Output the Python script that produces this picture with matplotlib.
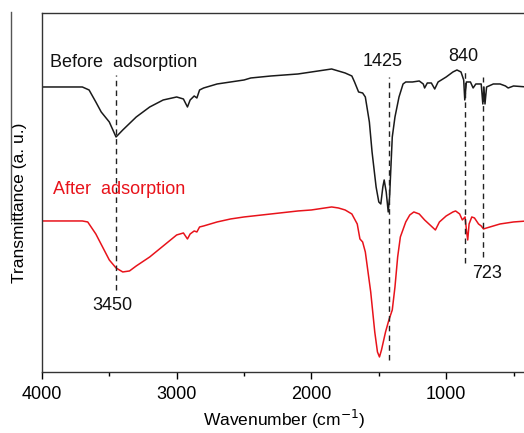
import matplotlib.pyplot as plt
from matplotlib.lines import Line2D
from matplotlib.ticker import MultipleLocator

plt.rcParams['font.family'] = ['Liberation Sans', 'DejaVu Sans']

# FTIR spectra, arbitrary transmittance units (offset curves)
wn_before = [4000, 3800, 3700, 3650, 3600, 3560, 3500, 3450, 3400, 3300, 3200, 3100,
             3000, 2950, 2920, 2900, 2870, 2850, 2830, 2800, 2700, 2600, 2500, 2450,
             2300, 2100, 2000, 1900, 1850, 1800, 1750, 1700, 1680, 1650, 1620, 1600,
             1570, 1550, 1520, 1500, 1485, 1470, 1460, 1445, 1430, 1420, 1400, 1380,
             1350, 1320, 1300, 1250, 1200, 1170, 1160, 1140, 1110, 1085, 1060, 1000,
             950, 920, 890, 870, 862, 850, 820, 800, 780, 740, 728, 720, 712, 700,
             650, 600, 560, 540, 500, 400]
t_before = [285, 285, 285, 282, 270, 260, 250, 235, 242, 255, 265, 272,
            275, 273, 265, 272, 276, 274, 282, 284, 288, 290, 292, 294,
            296, 298, 300, 302, 303, 301, 299, 296, 290, 280, 279, 275,
            250, 220, 185, 170, 168, 185, 192, 180, 160, 175, 235, 255,
            275, 288, 290, 290, 291, 288, 284, 289, 289, 283, 290, 295,
            300, 302, 300, 292, 272, 290, 290, 284, 288, 288, 268, 285, 268, 285,
            288, 288, 286, 284, 286, 285]

wn_after = [4000, 3700, 3660, 3600, 3550, 3500, 3450, 3400, 3350, 3300, 3200, 3100,
            3000, 2950, 2920, 2900, 2870, 2850, 2830, 2800, 2700, 2600, 2500, 2300,
            2100, 2000, 1900, 1850, 1800, 1750, 1700, 1660, 1640, 1620, 1600, 1560,
            1530, 1510, 1495, 1480, 1450, 1425, 1400, 1380, 1360, 1340, 1300, 1270,
            1240, 1200, 1160, 1120, 1080, 1050, 1000, 950, 930, 900, 880, 860, 848,
            840, 830, 810, 790, 760, 740, 723, 700, 650, 600, 500, 400]
t_after = [151, 151, 150, 138, 125, 112, 104, 100, 101, 106, 115, 126,
           137, 139, 133, 138, 141, 140, 145, 146, 150, 153, 155, 158,
           161, 162, 164, 165, 164, 162, 158, 148, 133, 130, 120, 80,
           40, 20, 15, 22, 40, 52, 62, 85, 115, 135, 150, 157,
           160, 158, 152, 147, 142, 150, 156, 160, 161, 158, 152, 155, 140,
           132, 148, 155, 154, 148, 146, 143, 144, 146, 148, 150, 151]

# marked bands: position, dashed line span, label, label position
band_pos = [3450, 1425, 860, 723]
band_lo = [82, 12, 109, 115]
band_hi = [297, 295, 300, 295]
band_text = ['3450', '1425', '840', '723']
band_text_x = [3480, 1470, 870, 700]
band_text_y = [66, 310, 315, 98]

fig = plt.figure(figsize=(5.24, 4.33), dpi=100)
ax = fig.add_axes([0.080, 0.141, 0.925, 0.829])

ax.plot(wn_before, t_before, color='#1a1a1a', lw=1.1)
ax.plot(wn_after, t_after, color='#e8131b', lw=1.1)

for p, lo, hi in zip(band_pos, band_lo, band_hi):
    ax.plot([p, p], [lo, hi], color='#222222', lw=1.0, ls=(0, (4, 3)))
for s, x, y in zip(band_text, band_text_x, band_text_y):
    ax.text(x, y, s, fontsize=13, ha='center', va='center', color='#111111')

ax.text(3940, 309, 'Before  adsorption', fontsize=13, ha='left', va='center', color='#111111')
ax.text(3920, 182, 'After  adsorption', fontsize=13, ha='left', va='center', color='#e8131b')

ax.set_xlim(4000, 403)
ax.set_ylim(0, 359)
ax.xaxis.set_major_locator(MultipleLocator(1000))
ax.xaxis.set_minor_locator(MultipleLocator(500))
ax.tick_params(axis='x', which='major', direction='out', length=5, width=1, labelsize=13, pad=5)
ax.tick_params(axis='x', which='minor', direction='out', length=3, width=1)
ax.set_yticks([])
ax.spines['right'].set_visible(False)
for s in ['left', 'top', 'bottom']:
    ax.spines[s].set_color('#333333')
    ax.spines[s].set_linewidth(1.0)

ax.set_xlabel('Wavenumber (cm$^{-1}$)', fontsize=12.5, labelpad=4)
ax.set_ylabel('Transmittance (a. u.)', fontsize=12.5)
ax.yaxis.set_label_coords(-0.031, 0.47)

# stray vertical line at left edge of the original figure
fig.add_artist(Line2D([11 / 524, 11 / 524], [1 - 12 / 433, 1 - 220 / 433],
                      color='#555555', lw=1.0))

fig.savefig('out.png', dpi=100)
